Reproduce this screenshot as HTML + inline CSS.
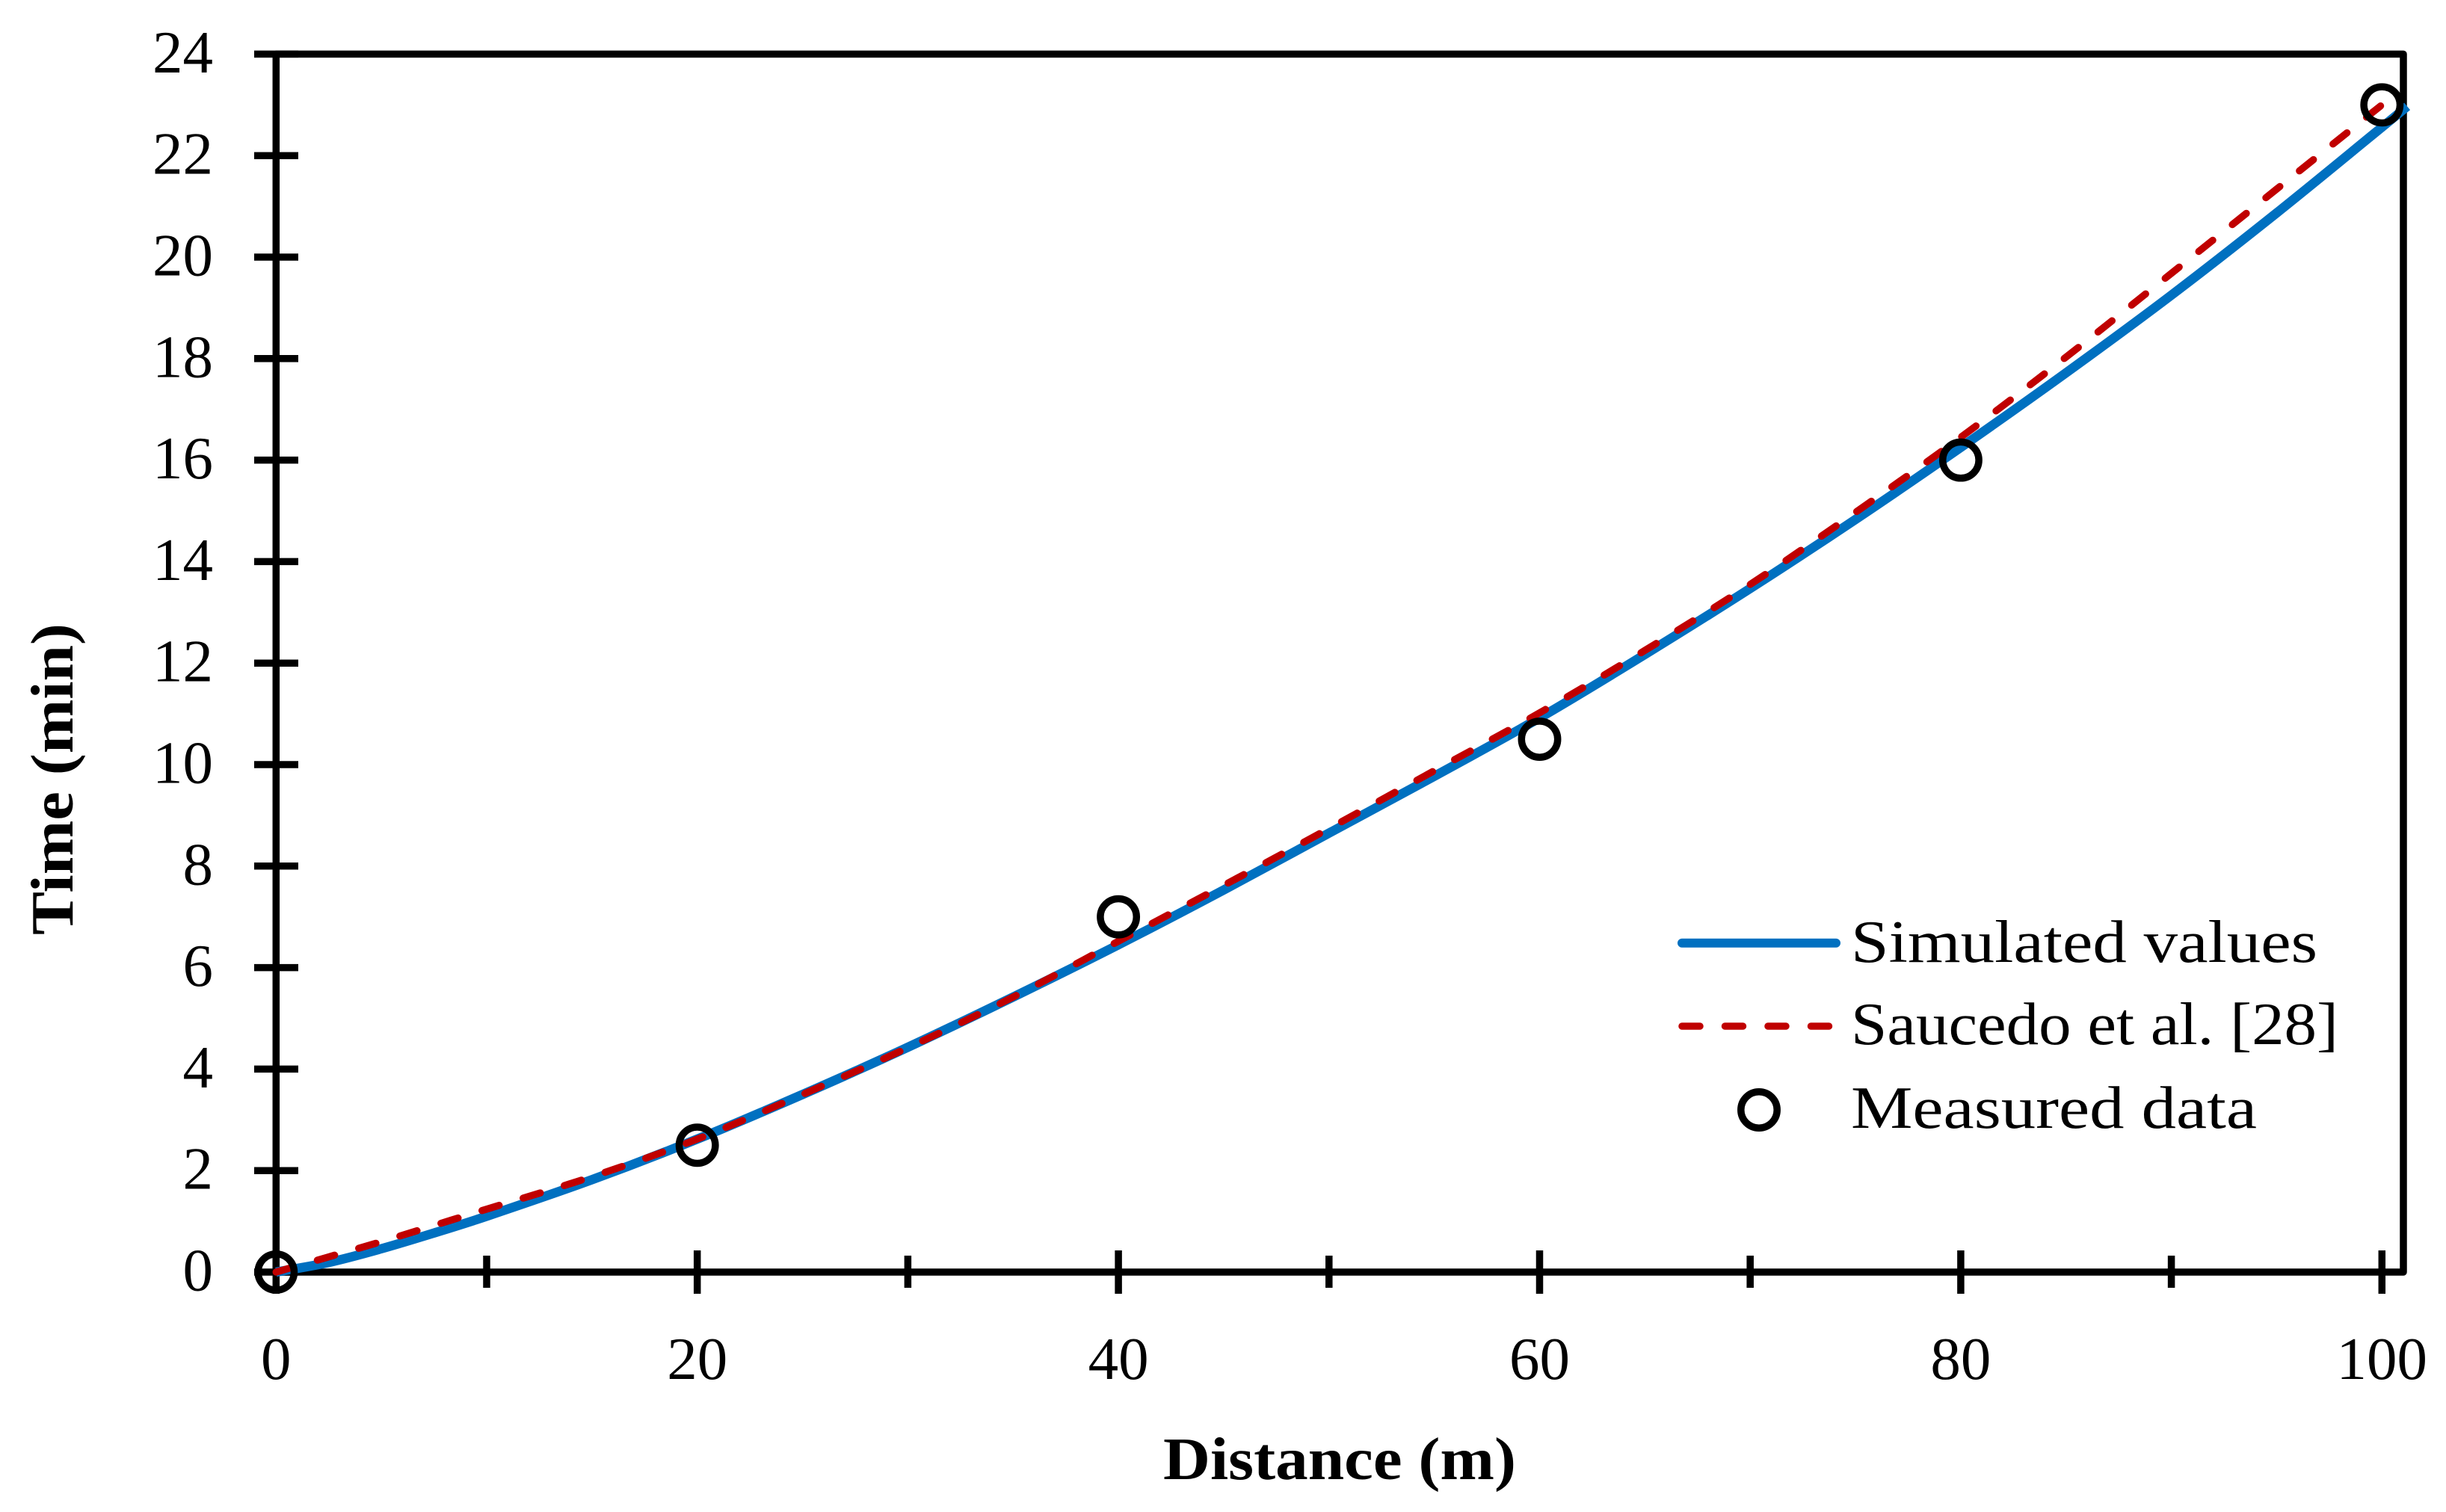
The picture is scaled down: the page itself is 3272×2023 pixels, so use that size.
<!DOCTYPE html>
<html lang="en">
<head>
<meta charset="utf-8">
<title>Time versus distance chart</title>
<style>
  html, body { margin: 0; padding: 0; background: #fff; }
  svg { display: block; }
  text { font-family: "Liberation Serif", serif; fill: #000; font-size: 81px; }
  .title { font-weight: bold; }
</style>
</head>
<body>
<svg id="chart" xmlns="http://www.w3.org/2000/svg" width="3272" height="2023" viewBox="0 0 3272 2023">
  <rect x="0" y="0" width="3272" height="2023" fill="#fff"></rect>
  <g id="axes"></g>
  <g id="series"></g>
  <text class="title" x="1556" y="1979" textLength="472" lengthAdjust="spacingAndGlyphs">Distance (m)</text>
  <text class="title" transform="translate(97 1251) rotate(-90)" x="0" y="0" textLength="417" lengthAdjust="spacingAndGlyphs">Time (min)</text>
  <g>
    <line x1="2250" y1="1261.7" x2="2456" y2="1261.7" stroke="#0070C0" stroke-width="12" stroke-linecap="round"></line>
    <line x1="2250" y1="1373" x2="2448" y2="1373" stroke="#C00000" stroke-width="9.5" stroke-linecap="round" stroke-dasharray="24 33.5"></line>
    <circle cx="2353" cy="1485" r="24.2" fill="none" stroke="#000" stroke-width="9.5"></circle>
    <text x="2476" y="1287" textLength="624" lengthAdjust="spacingAndGlyphs">Simulated values</text>
    <text x="2476" y="1397" textLength="652" lengthAdjust="spacingAndGlyphs">Saucedo et al. [28]</text>
    <text x="2476" y="1509" textLength="543" lengthAdjust="spacingAndGlyphs">Measured data</text>
  </g>
</svg>
<script>
const xMajorTicks = [0, 20, 40, 60, 80, 100];
const xMinorTicks = [10, 30, 50, 70, 90];
const yTicks = [0, 2, 4, 6, 8, 10, 12, 14, 16, 18, 20, 22, 24];

const simulatedDistance = [0, 2.5, 5, 7.5, 10, 15, 20, 25, 30, 35, 40, 45, 50, 55, 60, 65, 70, 75, 80, 85, 90, 95, 100, 101.2];
const simulatedTime = [0, 0.19, 0.46, 0.77, 1.1, 1.82, 2.62, 3.5, 4.43, 5.42, 6.45, 7.53, 8.65, 9.77, 10.92, 12.17, 13.47, 14.83, 16.25, 17.72, 19.25, 20.87, 22.56, 22.97];

const saucedoDistance = [0, 2.5, 5, 10, 15, 20, 25, 30, 35, 40, 45, 50, 55, 60, 65, 70, 75, 80, 85, 90, 95, 100];
const saucedoTime = [0, 0.3, 0.6, 1.24, 1.88, 2.62, 3.5, 4.42, 5.42, 6.52, 7.62, 8.74, 9.88, 11.02, 12.25, 13.55, 14.97, 16.45, 18.03, 19.68, 21.34, 23.0];

const measuredDistance = [0, 20, 40, 60, 80, 100];
const measuredTime = [0, 2.5, 7, 10.5, 16, 23];

const NS = 'http://www.w3.org/2000/svg';
const axesGroup = document.getElementById('axes');
const seriesGroup = document.getElementById('series');

function xPos(v) { return 369.3 + 28.17 * v; }
function yPos(v) { return 1702 - 67.9 * v; }

function make(tag, attrs, parent) {
  const el = document.createElementNS(NS, tag);
  for (const k in attrs) el.setAttribute(k, attrs[k]);
  parent.appendChild(el);
  return el;
}

function smoothPath(xs, ys) {
  const p = xs.map((x, i) => [xPos(x), yPos(ys[i])]);
  let d = 'M' + p[0][0].toFixed(2) + ' ' + p[0][1].toFixed(2);
  for (let i = 0; i < p.length - 1; i++) {
    const a = p[Math.max(i - 1, 0)], b = p[i], c = p[i + 1], e = p[Math.min(i + 2, p.length - 1)];
    const h = c[0] - b[0];
    const s1 = (c[1] - a[1]) / Math.max(c[0] - a[0], 1e-6);
    const s2 = (e[1] - b[1]) / Math.max(e[0] - b[0], 1e-6);
    d += ' C' + (b[0] + h / 3).toFixed(2) + ' ' + (b[1] + s1 * h / 3).toFixed(2) +
         ' ' + (c[0] - h / 3).toFixed(2) + ' ' + (c[1] - s2 * h / 3).toFixed(2) +
         ' ' + c[0].toFixed(2) + ' ' + c[1].toFixed(2);
  }
  return d;
}

const frame = make('rect', { x: xPos(0), y: yPos(24), width: 3215 - xPos(0), height: yPos(0) - yPos(24), fill: 'none', stroke: '#000', 'stroke-width': 9.5, 'stroke-linejoin': 'round' }, axesGroup);



yTicks.forEach(function (v) {
  const tick = make('line', { x1: 340, x2: 399, y1: yPos(v), y2: yPos(v), stroke: '#000', 'stroke-width': 9.5 }, axesGroup);
  
  
  const label = make('text', { x: 285, y: yPos(v) + 24.5, 'text-anchor': 'end' }, axesGroup);
  label.textContent = String(v);
  
  
});

xMajorTicks.forEach(function (v) {
  const tick = make('line', { x1: xPos(v), x2: xPos(v), y1: 1673, y2: 1731, stroke: '#000', 'stroke-width': 9.5 }, axesGroup);
  
  
  const label = make('text', { x: xPos(v), y: 1845, 'text-anchor': 'middle' }, axesGroup);
  label.textContent = String(v);
  
  
});

xMinorTicks.forEach(function (v) {
  const tick = make('line', { x1: xPos(v), x2: xPos(v), y1: 1680, y2: 1723, stroke: '#000', 'stroke-width': 9.5 }, axesGroup);
  
  
});

const simulatedLine = make('path', { d: smoothPath(simulatedDistance, simulatedTime), fill: 'none', stroke: '#0070C0', 'stroke-width': 12.5 }, seriesGroup);



const saucedoLine = make('path', { d: smoothPath(saucedoDistance, saucedoTime), fill: 'none', stroke: '#C00000', 'stroke-width': 9.5, 'stroke-linecap': 'round', 'stroke-dasharray': '24 33.5' }, seriesGroup);



measuredDistance.forEach(function (d, i) {
  const point = make('circle', { cx: xPos(d), cy: yPos(measuredTime[i]), r: 24.2, fill: 'none', stroke: '#000', 'stroke-width': 9.5 }, seriesGroup);
  
  
});
</script>
</body>
</html>
